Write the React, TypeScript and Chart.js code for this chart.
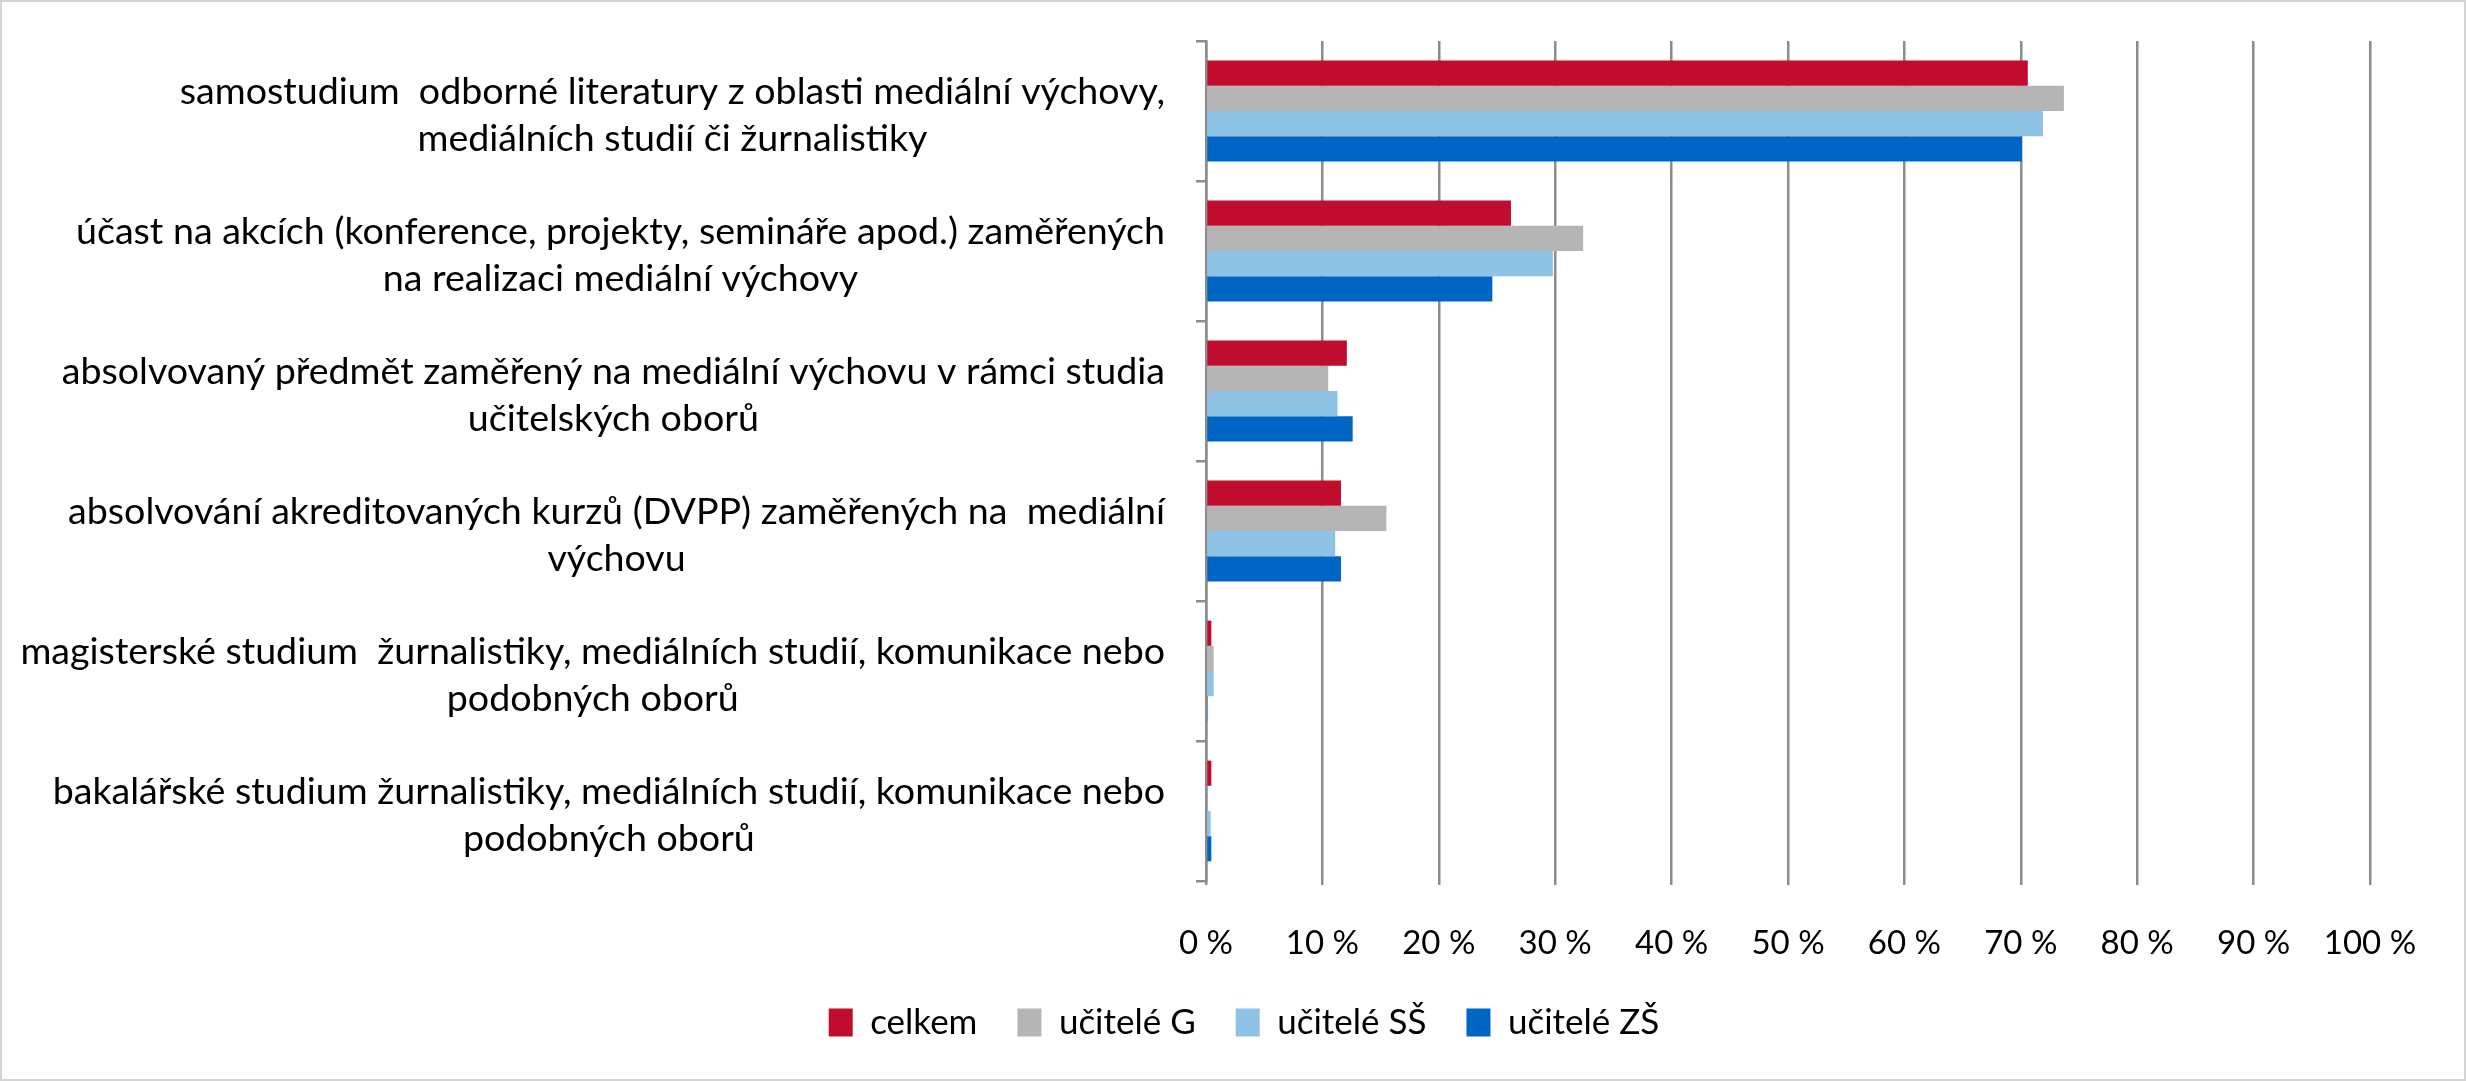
import React, { useEffect, useRef } from 'react';
import { Chart, registerables } from 'chart.js';

Chart.register(...registerables);

const W = 2466;
const H = 1081;

// Category labels (each split into its printed lines)
const categories: string[][] = [
  ['samostudium  odborné literatury z oblasti mediální výchovy,', 'mediálních studií či žurnalistiky'],
  ['účast na akcích (konference, projekty, semináře apod.) zaměřených', 'na realizaci mediální výchovy'],
  ['absolvovaný předmět zaměřený na mediální výchovu v rámci studia', 'učitelských oborů'],
  ['absolvování akreditovaných kurzů (DVPP) zaměřených na  mediální', 'výchovu'],
  ['magisterské studium  žurnalistiky, mediálních studií, komunikace nebo', 'podobných oborů'],
  ['bakalářské studium žurnalistiky, mediálních studií, komunikace nebo', 'podobných oborů'],
];

const seriesNames = ['celkem', 'učitelé G', 'učitelé SŠ', 'učitelé ZŠ'];
const celkem = [70.6, 26.2, 12.1, 11.6, 0.46, 0.46];
const ucitelG = [73.7, 32.4, 10.5, 15.5, 0.66, 0];
const ucitelSS = [71.9, 29.8, 11.3, 11.1, 0.66, 0.4];
const ucitelZS = [70.1, 24.6, 12.6, 11.6, 0.08, 0.46];
const seriesColors = ['#C00D2D', '#B5B5B5', '#8FC3E5', '#0066C5'];

const xTickValues = [0, 10, 20, 30, 40, 50, 60, 70, 80, 90, 100];
const xTickSuffix = ' %';

const FONT = 'Lato, "Open Sans", "Liberation Sans", sans-serif';
const LABEL_SIZE = 37.6;
const LABEL_LINE = 47;
const GRID = '#8c8c8c';

const yLabelPlugin = {
  id: 'yLabelBlocks',
  afterDraw(chart: any) {
    const ctx = chart.ctx;
    const yScale = chart.scales.y;
    ctx.save();
    ctx.font = `${LABEL_SIZE}px ${FONT}`;
    ctx.fillStyle = '#000000';
    ctx.textBaseline = 'middle';
    ctx.textAlign = 'center';
    const right = chart.chartArea.left - 41;
    categories.forEach((lines, i) => {
      const cy = yScale.getPixelForValue(i) + 4;
      const widths = lines.map((l) => ctx.measureText(l).width);
      const bw = Math.max(...widths);
      const cx = right - bw / 2;
      const y0 = cy - ((lines.length - 1) * LABEL_LINE) / 2;
      lines.forEach((l, j) => ctx.fillText(l, cx, y0 + j * LABEL_LINE));
    });
    ctx.restore();
  },
};

export default function App() {
  const ref = useRef<HTMLCanvasElement | null>(null);

  useEffect(() => {
    document.body.style.margin = '0';
    const canvas = ref.current;
    if (!canvas) return;
    const data = [celkem, ucitelG, ucitelSS, ucitelZS];
    const labels = categories.map((c) => c.join(' '));
    const chart = new Chart(canvas, {
      type: 'bar',
      data: {
        labels,
        datasets: seriesNames.map((name, i) => ({
          label: name,
          data: data[i],
          backgroundColor: seriesColors[i],
          borderWidth: 0,
          barPercentage: 1,
          categoryPercentage: 0.72,
        })),
      },
      options: {
        indexAxis: 'y',
        responsive: false,
        animation: false,
        devicePixelRatio: 1,
        layout: { padding: { left: 22, right: 0, top: 41, bottom: 31 } },
        plugins: {
          tooltip: { enabled: false },
          legend: {
            position: 'bottom',
            align: 'center',
            labels: {
              boxWidth: 24,
              boxHeight: 28,
              padding: 40,
              color: '#000000',
              font: { family: FONT, size: 35 },
            },
          },
        },
        scales: {
          x: {
            min: 0,
            max: 100,
            afterFit: (s: any) => {
              s.height = 84;
            },
            afterBuildTicks: (s: any) => {
              s.ticks = xTickValues.map((v) => ({ value: v }));
            },
            border: { display: false },
            grid: {
              color: GRID,
              lineWidth: 2.5,
              drawTicks: true,
              tickLength: 4,
            },
            ticks: {
              padding: 39,
              color: '#000000',
              font: { family: FONT, size: 33 },
              callback: (v: any) => `${v}${xTickSuffix}`,
            },
          },
          y: {
            afterFit: (s: any) => {
              s.width = 1184;
            },
            border: { display: true, color: GRID, width: 2.5 },
            grid: {
              display: true,
              offset: true,
              drawOnChartArea: false,
              drawTicks: true,
              tickLength: 10,
              color: GRID,
              lineWidth: 2.5,
            },
            ticks: { display: false },
          },
          yRight: {
            type: 'category',
            position: 'right',
            labels,
            afterFit: (s: any) => {
              s.width = 96;
            },
            border: { display: false },
            grid: { display: false },
            ticks: { display: false },
          },
        },
      },
      plugins: [yLabelPlugin],
    } as any);
    return () => chart.destroy();
  }, []);

  return (
    <div style={{ position: 'fixed', left: 0, top: 0, width: W, height: H, background: '#ffffff' }}>
      <canvas ref={ref} width={W} height={H} style={{ display: 'block' }} />
      <div
        style={{
          position: 'absolute',
          left: 0,
          top: 0,
          width: W,
          height: H,
          boxSizing: 'border-box',
          border: '2px solid #d4d4d4',
          pointerEvents: 'none',
        }}
      />
    </div>
  );
}
